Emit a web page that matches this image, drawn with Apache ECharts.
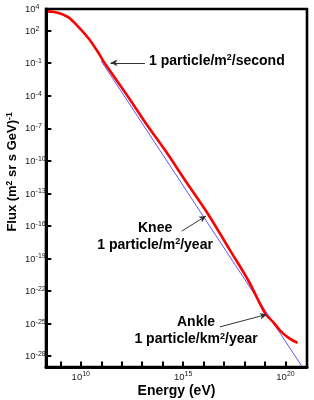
<!DOCTYPE html>
<html>
<head>
<meta charset="utf-8">
<script src="https://cdn.jsdelivr.net/npm/echarts@6/dist/echarts.min.js"></script>
<style>
html,body{margin:0;padding:0;background:#fff;}
#c{width:314px;height:400px;}
</style>
</head>
<body>
<div id="c"></div>
<script>
// log10(Energy / eV) and log10(Flux)
const redLogE = [8.3, 8.7, 9.0, 9.3, 9.46, 9.95, 10.44, 10.93, 11.17, 12.35, 13.2, 14.12, 15.1, 16.16, 17.3, 18.19, 19.02, 19.42, 19.75, 20.15, 20.59];
const redLogF = [3.80, 3.72, 3.58, 3.33, 3.14, 2.22, 1.14, -0.25, -1.01, -4.2, -6.6, -9.03, -11.8, -14.73, -18.27, -21.05, -24.1, -24.9, -25.67, -26.31, -26.78];
const blueLogE = [11.0, 20.82];
const blueLogF = [-0.8, -29.0];

const xMin = 8.3, xMax = 21.05, yMin = -29, yMax = 4;
const xTickValues = [9, 10, 11, 12, 13, 14, 15, 16, 17, 18, 19, 20];
const xLabelValues = [10, 15, 20];
const yTickValues = [2, -1, -4, -7, -10, -13, -16, -19, -22, -25, -28];
const yLabelValues = [4, 2, -1, -4, -7, -10, -13, -16, -19, -22, -25, -28];

// annotations: label anchor (logE, logF), arrow start, arrow tip
const notes = [
  {text: '{t|1 particle/m}{s|2}{t|/second}', at: [13.33, -0.77], align: 'left', from: [13.13, -0.96], to: [11.45, -0.96]},
  {text: '{t|Knee}\n{t|1 particle/m}{s|2}{t|/year}', at: [13.63, -16.96], align: 'center', from: [14.93, -16.47], to: [16.12, -15.08]},
  {text: '{t|Ankle}\n{t|1 particle/km}{s|2}{t|/year}', at: [15.63, -25.69], align: 'center', from: [16.80, -25.30], to: [19.09, -24.15]}
];

const redData = redLogE.map((e, i) => [e, redLogF[i]]);
const blueData = blueLogE.map((e, i) => [e, blueLogF[i]]);

const tickFont = '"Liberation Sans Narrow", "Arial Narrow", "Liberation Sans", Arial, sans-serif';
const boldFont = '"Liberation Sans", Arial, Helvetica, sans-serif';

const tickRich = {
  b: {fontSize: 9.5, fontFamily: tickFont, color: '#222', lineHeight: 11, verticalAlign: 'bottom'},
  s: {fontSize: 7, fontFamily: tickFont, color: '#222', lineHeight: 11, verticalAlign: 'top'}
};
const noteRich = {
  t: {fontSize: 14, fontWeight: 'bold', fontFamily: boldFont, color: '#000', lineHeight: 17},
  s: {fontSize: 9, fontWeight: 'bold', fontFamily: boldFont, color: '#000', lineHeight: 17, verticalAlign: 'top', padding: [1, 0, 0, 0]}
};

// inward tick marks as short segments in axis units (length ~5px)
const xTickLen = 0.5;   // in log10 flux units
const yTickLen = 0.26;  // in log10 energy units
const tickSegments = xTickValues.map(v => [{coord: [v, yMin]}, {coord: [v, yMin + xTickLen]}])
  .concat(yTickValues.map(v => [{coord: [xMin, v]}, {coord: [xMin + yTickLen, v]}]));

const chart = echarts.init(document.getElementById('c'), null, {renderer: 'canvas'});
chart.setOption({
  animation: false,
  backgroundColor: '#fff',
  grid: {left: 46, right: 7, top: 9, bottom: 33, show: true, backgroundColor: 'transparent', borderColor: '#000', borderWidth: 2.6, containLabel: false, outerBoundsMode: 'none'},
  xAxis: {
    type: 'value', min: xMin, max: xMax, z: 5,
    name: 'Energy (eV)', nameLocation: 'middle', nameGap: 17, nameMoveOverlap: false,
    nameTextStyle: {fontSize: 14, fontWeight: 'bold', fontFamily: boldFont, color: '#000'},
    axisLine: {show: true, onZero: false, lineStyle: {color: '#000', width: 3}},
    axisTick: {show: false},
    axisLabel: {show: true, margin: 4, customValues: xLabelValues, formatter: v => '{b|10}{s|' + Math.round(v) + '}', rich: tickRich},
    splitLine: {show: false}
  },
  yAxis: {
    type: 'value', min: yMin, max: yMax, z: 5,
    name: '{n|Flux (m}{s|2}{n| sr s GeV)}{s|-1}', nameLocation: 'middle', nameGap: 26, nameRotate: 90, nameMoveOverlap: false,
    nameTextStyle: {padding: [0, 0, 0, 32], rich: {
      n: {fontSize: 13, fontWeight: 'bold', fontFamily: boldFont, color: '#000', lineHeight: 15},
      s: {fontSize: 8.5, fontWeight: 'bold', fontFamily: boldFont, color: '#000', lineHeight: 15, verticalAlign: 'top'}
    }},
    axisLine: {show: true, onZero: false, lineStyle: {color: '#000', width: 3}},
    axisTick: {show: false},
    axisLabel: {show: true, margin: 21, align: 'left', customValues: yLabelValues, formatter: v => '{b|10}{s|' + Math.round(v) + '}', rich: tickRich},
    splitLine: {show: false}
  },
  series: [
    {
      type: 'line', data: blueData, showSymbol: false, symbol: 'none',
      lineStyle: {color: '#5a5aff', width: 1}, silent: true, z: 2,
      markLine: {
        silent: true, symbol: ['none', 'arrow'], symbolSize: [5, 7],
        label: {show: false},
        lineStyle: {color: '#333', width: 1, type: 'solid'},
        data: notes.map(n => [{coord: n.from}, {coord: n.to}])
      },
      markPoint: {
        silent: true, symbol: 'circle', symbolSize: 0,
        data: notes.map(n => ({coord: n.at, label: {show: true, position: 'inside', align: n.align, verticalAlign: 'middle', formatter: n.text, rich: noteRich}})),
        itemStyle: {color: 'transparent'}
      }
    },
    {
      type: 'line', data: redData, showSymbol: false, symbol: 'none', smooth: 0.3,
      lineStyle: {color: '#ff0000', width: 2.6}, silent: true, z: 3,
      markLine: {
        silent: true, symbol: ['none', 'none'], z: 10,
        label: {show: false},
        lineStyle: {color: '#000', width: 2, type: 'solid'},
        emphasis: {disabled: true},
        data: tickSegments
      }
    }
  ]
});
</script>
</body>
</html>
